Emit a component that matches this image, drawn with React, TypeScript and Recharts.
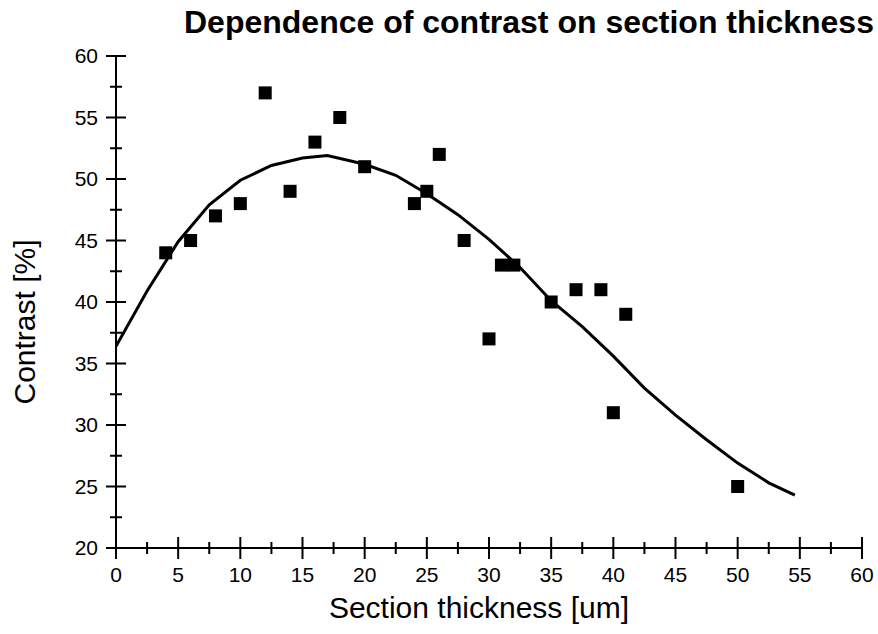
import { ComposedChart, Line, Scatter, XAxis, YAxis, Label } from "recharts";

// measured points
const thickness = [4, 6, 8, 10, 12, 14, 16, 18, 20, 24, 25, 26, 28, 30, 31, 32, 35, 37, 39, 40, 41, 50];
const contrast = [44, 45, 47, 48, 57, 49, 53, 55, 51, 48, 49, 52, 45, 37, 43, 43, 40, 41, 41, 31, 39, 25];

// fitted curve
const fitX = [0, 2.5, 5, 7.5, 10, 12.5, 15, 17, 20, 22.5, 25, 27.5, 30, 32.5, 35, 37.5, 40, 42.5, 45, 47.5, 50, 52.5, 54.6];
const fitY = [36.4, 40.9, 44.9, 47.9, 49.9, 51.1, 51.7, 51.9, 51.2, 50.3, 48.8, 47.1, 45.1, 42.8, 40.1, 38.0, 35.6, 33.0, 30.8, 28.8, 26.9, 25.3, 24.3];

const xTicks = [0, 2.5, 5, 7.5, 10, 12.5, 15, 17.5, 20, 22.5, 25, 27.5, 30, 32.5, 35, 37.5, 40, 42.5, 45, 47.5, 50, 52.5, 55, 57.5, 60];
const yTicks = [20, 22.5, 25, 27.5, 30, 32.5, 35, 37.5, 40, 42.5, 45, 47.5, 50, 52.5, 55, 57.5, 60];

const points = thickness.map((x, i) => ({ x, y: contrast[i] }));
const fit = fitX.map((x, i) => ({ x, y: fitY[i] }));

const font = "'Liberation Sans', Arial, sans-serif";

function XTick(props: any) {
  const { x, y, payload } = props;
  const major = payload.value % 5 === 0;
  const h = major ? 11 : 6;
  return (
    <g>
      <line x1={x} x2={x} y1={y - h} y2={y + h} stroke="#000" strokeWidth={2} />
      {major && (
        <text x={x} y={y + 34} textAnchor="middle" fontSize={21} fontFamily={font} fill="#000">
          {payload.value}
        </text>
      )}
    </g>
  );
}

function YTick(props: any) {
  const { x, y, payload } = props;
  const major = payload.value % 5 === 0;
  const h = major ? 10 : 6;
  return (
    <g>
      <line x1={x - h} x2={x + h} y1={y} y2={y} stroke="#000" strokeWidth={2} />
      {major && (
        <text x={x - 18} y={y} dy="0.35em" textAnchor="end" fontSize={21} fontFamily={font} fill="#000">
          {payload.value}
        </text>
      )}
    </g>
  );
}

function Square(props: any) {
  const { cx, cy } = props;
  return <rect x={cx - 6.5} y={cy - 6.5} width={13} height={13} fill="#000" />;
}

export default function App() {
  return (
    <div style={{ position: "absolute", left: 0, top: 0, width: 878, height: 634, background: "#fff" }}>
      <div
        style={{
          position: "absolute",
          left: 184,
          top: 4,
          fontFamily: font,
          fontWeight: "bold",
          fontSize: 32,
          color: "#000",
          whiteSpace: "nowrap",
        }}
      >
        Dependence of contrast on section thickness
      </div>
      <ComposedChart width={878} height={634} margin={{ top: 56, right: 16, bottom: 0, left: 56 }}>
        <XAxis
          type="number"
          dataKey="x"
          domain={[0, 60]}
          ticks={xTicks}
          interval={0}
          tickSize={0}
          tickMargin={0}
          tickLine={false}
          tick={<XTick />}
          axisLine={{ stroke: "#000", strokeWidth: 2 }}
          height={86}
          allowDataOverflow
        >
          <Label
            content={() => (
              <text x={479} y={618} textAnchor="middle" fontSize={30} fontFamily={font} fill="#000">
                Section thickness [um]
              </text>
            )}
          />
        </XAxis>
        <YAxis
          type="number"
          dataKey="y"
          domain={[20, 60]}
          ticks={yTicks}
          interval={0}
          tickSize={0}
          tickMargin={0}
          tickLine={false}
          tick={<YTick />}
          axisLine={{ stroke: "#000", strokeWidth: 2 }}
          width={60}
          allowDataOverflow
        >
          <Label
            content={() => (
              <text
                x={35}
                y={322}
                transform="rotate(-90, 35, 322)"
                textAnchor="middle"
                fontSize={30}
                fontFamily={font}
                fill="#000"
              >
                Contrast [%]
              </text>
            )}
          />
        </YAxis>
        <Line
          data={fit}
          dataKey="y"
          type="linear"
          stroke="#000"
          strokeWidth={3}
          dot={false}
          activeDot={false}
          isAnimationActive={false}
        />
        <Scatter data={points} dataKey="y" fill="#000" shape={<Square />} isAnimationActive={false} />
      </ComposedChart>
    </div>
  );
}
